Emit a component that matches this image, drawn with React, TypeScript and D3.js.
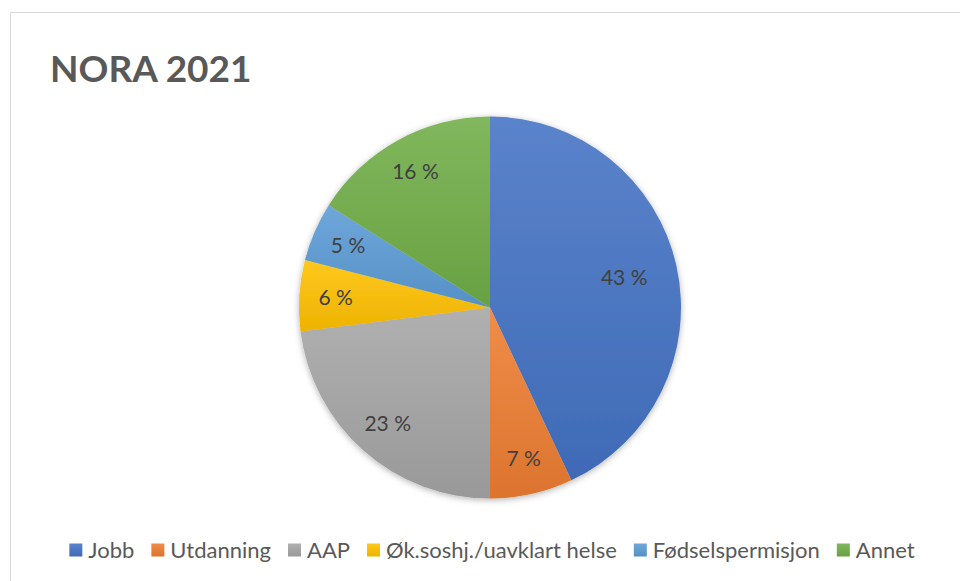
import React, { useRef, useEffect } from "react";
import * as d3 from "d3";

const categories = ["Jobb", "Utdanning", "AAP", "Øk.soshj./uavklart helse", "Fødselspermisjon", "Annet"];
const shares = [43, 7, 23, 6, 5, 16];
const colors = ["#4472C4", "#ED7D31", "#A5A5A5", "#FFC000", "#5B9BD5", "#70AD47"];
const title = "NORA 2021";

const W = 960;
const H = 581;

const App = () => {
  const svgRef = useRef(null);

  useEffect(() => {
    const svg = d3.select(svgRef.current);
    svg.selectAll("*").remove();

    const cx = 490;
    const cy = 307.5;
    const r = 191;
    const font = "Lato, 'Open Sans', sans-serif";

    const defs = svg.append("defs");
    colors.forEach((c, i) => {
      const g = defs.append("linearGradient")
        .attr("id", "grad" + i)
        .attr("x1", 0).attr("y1", 0).attr("x2", 0).attr("y2", 1);
      g.append("stop").attr("offset", "0%").attr("stop-color", d3.interpolateRgb(c, "#fff")(0.12));
      g.append("stop").attr("offset", "100%").attr("stop-color", d3.interpolateRgb(c, "#000")(0.07));
    });
    const shadow = defs.append("filter").attr("id", "shadow")
      .attr("x", "-10%").attr("y", "-10%").attr("width", "120%").attr("height", "120%");
    shadow.append("feDropShadow")
      .attr("dx", 0).attr("dy", 1.5).attr("stdDeviation", 3)
      .attr("flood-color", "#000").attr("flood-opacity", 0.3);

    // frame
    svg.append("rect")
      .attr("x", 10.5).attr("y", 12.5)
      .attr("width", W).attr("height", H)
      .attr("fill", "white")
      .attr("stroke", "#d9d9d9")
      .attr("stroke-width", 1);

    svg.append("text")
      .attr("x", 50).attr("y", 82)
      .attr("font-family", font)
      .attr("font-weight", "bold")
      .attr("font-size", "37px")
      .attr("fill", "#595959")
      .text(title);

    const data = categories.map((c, i) => ({ name: c, value: shares[i] }));
    const pie = d3.pie().value(d => d.value).sort(null);
    const arcs = pie(data);
    const arc = d3.arc().innerRadius(0).outerRadius(r);

    const g = svg.append("g").attr("transform", `translate(${cx},${cy})`);
    g.append("g").attr("filter", "url(#shadow)")
      .selectAll("path")
      .data(arcs)
      .enter()
      .append("path")
      .attr("d", arc)
      .attr("fill", (d, i) => `url(#grad${i})`);

    g.selectAll(".lbl")
      .data(arcs)
      .enter()
      .append("text")
      .attr("class", "lbl")
      .attr("transform", d => {
        const lr = d.data.value > 30 ? r * 0.72 : r * 0.81;
        const a = (d.startAngle + d.endAngle) / 2;
        return `translate(${Math.sin(a) * lr},${-Math.cos(a) * lr})`;
      })
      .attr("text-anchor", "middle")
      .attr("dy", "0.35em")
      .attr("font-family", font)
      .attr("font-size", "21px")
      .attr("fill", "#404040")
      .text(d => `${d.data.value} %`);

    // legend
    const legend = svg.append("g");
    const items = legend.selectAll("g")
      .data(data)
      .enter()
      .append("g");
    items.append("rect")
      .attr("width", 13).attr("height", 13)
      .attr("y", -6.5)
      .attr("fill", (d, i) => `url(#grad${i})`);
    items.append("text")
      .attr("x", 19)
      .attr("dy", "0.35em")
      .attr("font-family", font)
      .attr("font-size", "22px")
      .attr("fill", "#595959")
      .text(d => d.name);

    const gap = 17;
    let x = 0;
    const offsets = [];
    items.each(function () {
      offsets.push(x);
      const tw = d3.select(this).select("text").node().getComputedTextLength();
      x += 19 + tw + gap;
    });
    const total = x - gap;
    const startX = 492 - total / 2;
    items.attr("transform", (d, i) => `translate(${startX + offsets[i]},550)`);
  }, []);

  return (
    <svg ref={svgRef} width={W} height={H} style={{ position: "absolute", left: 0, top: 0 }}></svg>
  );
};

export default App;
